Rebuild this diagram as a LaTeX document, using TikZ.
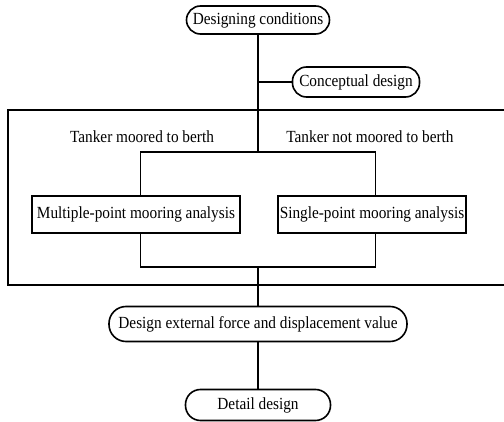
\documentclass[tikz,border=0pt]{standalone}
\usepackage{fontspec}
\setmainfont[FakeStretch=0.9]{Liberation Serif}
\begin{document}
\begin{tikzpicture}[x=1pt,y=-1pt,line width=1.6pt,
  font=\fontsize{17}{19}\selectfont,
  stadium/.style={draw,rectangle,rounded corners=14pt,inner sep=0pt,minimum height=28pt},
  boxnode/.style={draw,rectangle,fill=white,inner sep=0pt,minimum height=37pt},
  plain/.style={inner sep=0pt}]
\useasboundingbox (0,0) rectangle (504,422);
% nodes
\node[stadium,minimum width=143pt] (dc) at (258,20) {Designing conditions};
\node[stadium,minimum width=127pt,minimum height=30pt] (cd) at (356,82) {Conceptual design};
\node[draw,rectangle,inner sep=0pt,minimum width=235pt,minimum height=115pt] (inner) at (258,209.5) {};
\node[boxnode,minimum width=208pt] (mp) at (136,214.5) {Multiple-point mooring analysis};
\node[boxnode,minimum width=188pt] (sp) at (372,214.5) {Single-point mooring analysis};
\node[plain] (tm) at (142,137) {Tanker moored to berth};
\node[plain] (tn) at (370,137) {Tanker not moored to berth};
\node[stadium,minimum width=298pt,minimum height=35pt,rounded corners=17pt] (de) at (258,324) {Design external force and displacement value};
\node[stadium,minimum width=145pt,minimum height=31pt,rounded corners=15pt] (dd) at (258,405) {Detail design};
% frame
\coordinate (fr1) at (504,110);
\coordinate (fr2) at (8,110);
\coordinate (fr3) at (8,285);
\coordinate (fr4) at (504,285);
\draw (fr1) -- (fr2) -- (fr3) -- (fr4);
% connectors
\draw (dc.south) -- (inner.north);
\draw (cd.west) -- (cd.west -| dc.south);
\draw (inner.south) -- (de.north);
\draw (de.south) -- (dd.north);
\end{tikzpicture}
\end{document}
